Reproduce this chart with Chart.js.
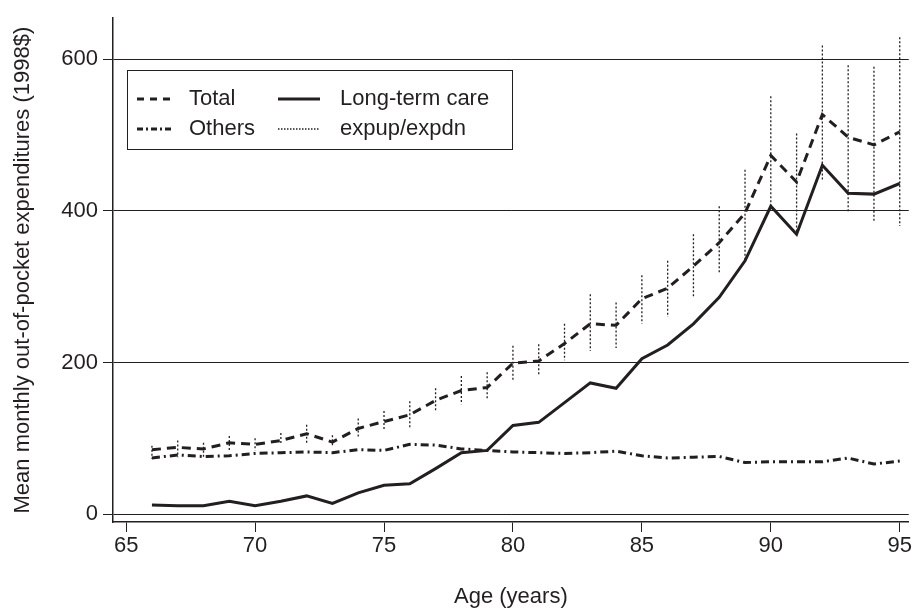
<!DOCTYPE html>
<html>
<head>
<meta charset="utf-8">
<script src="https://cdn.jsdelivr.net/npm/chart.js@4.4.0/dist/chart.umd.min.js"></script>
<style>
  html, body { margin: 0; padding: 0; background: #fff; }
</style>
</head>
<body>
<canvas id="chart" width="913" height="613"></canvas>
<script>
// Out-of-pocket spending by age
const ages = [66,67,68,69,70,71,72,73,74,75,76,77,78,79,80,81,82,83,84,85,86,87,88,89,90,91,92,93,94,95];
const total = [85,88,86,94,92,97,106,95,113,122,131,150,163,167,199,202,225,251,249,284,298,327,358,397,473,438,527,497,487,504];
const longTermCare = [12,11,11,17,11,17,24,14,28,38,40,60,81,84,117,121,147,173,166,205,223,251,286,334,406,369,460,423,422,436];
const others = [74,78,76,77,80,81,82,81,85,84,92,91,86,84,82,81,80,81,83,77,74,75,76,68,69,69,69,74,66,70];
const expup = [90,97,94,103,100,107,118,104,126,136,149,166,182,187,222,224,251,290,279,315,334,369,406,454,551,502,618,592,590,629];
const expdn = [73,75,73,84,84,91,92,90,100,110,113,136,145,150,175,184,203,215,219,251,260,287,318,333,406,370,440,399,385,380];
const xTicks = [65,70,75,80,85,90,95];
const yTicks = [0,200,400,600];

const ink = '#231f20';

Chart.defaults.font.family = "'Liberation Sans', Arial, sans-serif";
Chart.defaults.font.size = 22;
Chart.defaults.color = ink;

const pts = (ys) => ages.map((a, i) => ({ x: a, y: ys[i] }));

// each error bar is its own little segment, split by a null point
const barPts = ages.flatMap((a, i) => [
    { x: a, y: expup[i] },
    { x: a, y: expdn[i] },
    { x: a, y: null }
]);

// legend in a box inside the plot, like the original
const legendBox = {
    id: 'legendBox',
    afterDraw: function (chart) {
        const ctx = chart.ctx;
        ctx.save();
        ctx.strokeStyle = ink;
        ctx.lineWidth = 1;
        ctx.strokeRect(127.5, 70.5, 385, 79);

        const spots = [
            { ds: 0, x: 137, w: 35, tx: 189, y: 99 },
            { ds: 1, x: 278, w: 42, tx: 340, y: 99 },
            { ds: 2, x: 137, w: 35, tx: 189, y: 129 },
            { ds: 3, x: 278, w: 42, tx: 340, y: 129 }
        ];
        ctx.font = "22px 'Liberation Sans', Arial, sans-serif";
        ctx.textBaseline = 'middle';
        ctx.fillStyle = ink;
        spots.forEach((s) => {
            const d = chart.data.datasets[s.ds];
            ctx.beginPath();
            ctx.setLineDash(d.legendDash || d.borderDash || []);
            ctx.lineWidth = d.borderWidth;
            ctx.strokeStyle = ink;
            ctx.moveTo(s.x, s.y);
            ctx.lineTo(s.x + s.w, s.y);
            ctx.stroke();
            ctx.setLineDash([]);
            ctx.fillText(d.label, s.tx, s.y);
        });
        ctx.restore();
    }
};

const chart = new Chart(document.getElementById('chart').getContext('2d'), {
    type: 'line',
    data: {
        datasets: [
            {
                label: 'Total',
                data: pts(total),
                borderColor: ink,
                borderWidth: 3,
                borderDash: [9, 6],
                legendDash: [7, 6]
            },
            {
                label: 'Long-term care',
                data: pts(longTermCare),
                borderColor: ink,
                borderWidth: 3
            },
            {
                label: 'Others',
                data: pts(others),
                borderColor: ink,
                borderWidth: 3,
                borderDash: [8, 4, 2, 4],
                legendDash: [6, 3, 2, 3]
            },
            {
                label: 'expup/expdn',
                data: barPts,
                borderColor: ink,
                borderWidth: 1.3,
                borderDash: [2, 2],
                legendDash: [1.5, 1.5],
                spanGaps: false
            }
        ]
    },
    options: {
        responsive: false,
        devicePixelRatio: 1,
        animation: false,
        elements: {
            point: { radius: 0 },
            line: { tension: 0 }
        },
        layout: { padding: { top: 13, right: 3, left: 0, bottom: 0 } },
        plugins: {
            legend: { display: false },
            tooltip: { enabled: false }
        },
        scales: {
            x: {
                type: 'linear',
                min: 64.49,
                max: 95.35,
                afterBuildTicks: (s) => { s.ticks = xTicks.map(v => ({ value: v })); },
                afterFit: (s) => { s.height = 91; },
                ticks: { padding: 1, maxRotation: 0 },
                grid: { drawOnChartArea: false, tickLength: 10, color: ink, lineWidth: 1 },
                border: { display: true, color: ink, width: 1.5 },
                title: { display: true, text: 'Age (years)', padding: { top: 0, bottom: 3 } }
            },
            y: {
                min: -10.4,
                max: 654,
                afterBuildTicks: (s) => { s.ticks = yTicks.map(v => ({ value: v })); },
                afterFit: (s) => { s.width = 113; },
                ticks: { padding: 5 },
                grid: { tickLength: 10, color: ink, lineWidth: 1 },
                border: { display: true, color: ink, width: 1.5 },
                title: {
                    display: true,
                    text: 'Mean monthly out-of-pocket expenditures (1998$)',
                    padding: { top: 10, bottom: 0 }
                }
            }
        }
    },
    plugins: [legendBox]
});
</script>
</body>
</html>
